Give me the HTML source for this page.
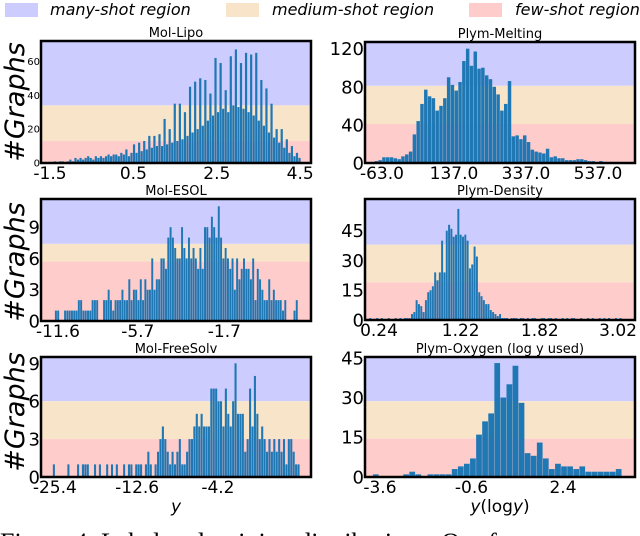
<!DOCTYPE html>
<html><head><meta charset="utf-8"><style>
html,body{margin:0;padding:0;background:#fff;overflow:hidden;width:640px;height:536px}
svg{display:block;font-family:"DejaVu Sans","Liberation Sans",sans-serif}
</style></head><body>
<svg id="fig" width="640" height="536" viewBox="0 0 640 536">
<g>
<rect x="5" y="3" width="33" height="14" fill="#ccccff"/>
<text x="50" y="15" font-size="16" font-style="italic">many-shot region</text>
<rect x="226" y="3" width="33" height="14" fill="#f8e4c8"/>
<text x="272" y="15" font-size="16" font-style="italic">medium-shot region</text>
<rect x="469" y="3" width="33" height="14" fill="#ffcccc"/>
<text x="515" y="15" font-size="16" font-style="italic">few-shot region</text>
</g>
<text transform="translate(24,102) rotate(-90)" text-anchor="middle" font-size="27" font-style="italic">#Graphs</text>
<text transform="translate(24,262) rotate(-90)" text-anchor="middle" font-size="27" font-style="italic">#Graphs</text>
<text transform="translate(24,412) rotate(-90)" text-anchor="middle" font-size="27" font-style="italic">#Graphs</text>
<text x="176" y="512" text-anchor="middle" font-size="17" font-style="italic">y</text>
<text x="500" y="512" text-anchor="middle" font-size="17"><tspan font-style="italic">y</tspan>(log<tspan font-style="italic">y</tspan>)</text>
<text x="0" y="551" font-size="26" font-family="Liberation Serif, serif">Figure 4: Label and training distributions. Our f</text>
</svg>
<script>
// ---- data ----
const lipoCounts=[1,0,1,1,0,1,2,1,3,2,3,2,3,4,3,2,4,3,4,3,4,5,4,5,5,4,6,5,8,4,6,11,6,12,7,13,8,16,9,16,10,17,10,26,11,20,12,35,13,35,14,30,16,45,18,48,20,50,22,49,25,41,28,62,30,59,32,43,30,63,34,67,33,59,32,65,30,64,28,65,25,49,22,44,18,35,15,20,12,20,9,14,6,10,4,6,3];
const lipoTicksY=[0,20,40,60];
const lipoTicksX=[-1.5,0.5,2.5,4.5];
const lipoTickLabelsX=["-1.5","0.5","2.5","4.5"];

const meltCounts=[1,1,2,3,6,6,6,5,4,7,9,12,30,44,62,77,70,68,55,60,68,90,82,76,85,107,120,102,117,99,100,92,88,80,72,55,62,86,28,29,25,29,22,14,12,11,10,15,6,7,5,5,3,3,3,4,4,3,2,2,1,2,1,1,1,1,1];
const meltTicksY=[0,40,80,120];
const meltTicksX=[-63,137,337,537];
const meltTickLabelsX=["-63.0","137.0","337.0","537.0"];

const esolCounts=[1,1,0,0,1,1,1,1,1,1,2,2,1,1,1,1,2,2,2,0,0,2,2,3,2,1,2,2,2,3,2,2,4,2,3,3,2,4,2,4,3,3,6,3,4,4,6,6,5,8,9,8,7,6,6,9,7,6,8,6,7,6,5,7,5,9,9,8,10,9,8,11,8,6,7,6,5,6,3,6,4,5,6,5,5,4,6,2,5,4,3,2,2,4,2,3,2,2,2,1,2,0,0,0,1,2];
const esolTicksY=[0,3,6,9];
const esolTicksX=[-11.4,-6.7,-1.6];
const esolTickLabelsX=["-11.6","-5.7","-1.7"];

const densCounts=[0,1,0,0,1,0,1,0,0,1,0,0,1,0,1,0,1,1,1,3,4,10,8,7,4,10,14,15,17,24,20,24,40,24,45,48,46,42,43,56,43,42,43,40,26,28,37,32,14,12,10,8,8,5,4,3,2,3,1,1,1,0,1,1,1,0,1,1,0,1,0,1,1,0,0,1,1,0,1,1,0,1,0,0,1,0,1,0,1,1,0,0,1,0,0,1,0,1,0,0,1,0,1,0,1,0,0,1,0,1];
const densTicksY=[0,15,30,45];
const densTicksX=[0.24,1.19,2.11,3.02];
const densTickLabelsX=["0.24","1.22","1.82","3.02"];

const freeCounts=[1,0,0,0,0,0,1,0,0,0,1,0,1,1,1,0,0,1,0,1,0,0,1,0,1,0,1,0,0,1,0,1,1,0,1,1,1,0,1,2,1,0,1,2,3,4,3,2,1,2,1,2,3,1,1,2,3,3,4,5,4,5,4,4,4,7,7,7,6,6,4,7,5,4,6,9,5,5,5,2,3,7,4,8,5,3,4,3,2,3,2,3,2,3,2,3,1,3,3,2,1,1];
const freeTicksY=[0,3,6,9];
const freeTicksX=[-25.4,-14.7,-4.2];
const freeTickLabelsX=["-25.4","-12.6","-4.2"];

const oxyCounts=[0,1,0,0,0,0,1,2,1,0,1,1,1,1,3,4,5,7,16,21,24,43,30,35,42,28,9,8,13,7,3,5,4,4,3,4,2,2,2,2,2,3];
const oxyTicksY=[0,15,30,45];
const oxyTicksX=[-3.6,-0.6,2.4];
const oxyTickLabelsX=["-3.6","-0.6","2.4"];

const panels=[
 {name:"mol-lipo",title:"Mol-Lipo",box:[41,41,311,163],xd:[-1.716,4.76],bins:[-1.404,4.52],ymax:72,regions:[34,13],counts:lipoCounts,ty:lipoTicksY,tx:lipoTicksX,tl:lipoTickLabelsX,yfs:10},
 {name:"plym-melting",title:"Plym-Melting",box:[365,42,635,163],xd:[-110.2,639.8],bins:[-104.7,603.6],ymax:127,regions:[81,41],counts:meltCounts,ty:meltTicksY,tx:meltTicksX,tl:meltTickLabelsX,yfs:18},
 {name:"mol-esol",title:"Mol-ESOL",box:[41,199,311,321],xd:[-12.4,3.5],bins:[-11.58,2.74],ymax:11.7,regions:[7.4,5.7],counts:esolCounts,ty:esolTicksY,tx:esolTicksX,tl:esolTickLabelsX,yfs:18},
 {name:"plym-density",title:"Plym-Density",box:[365,199,635,320],xd:[0.077,3.217],bins:[0.10,3.065],ymax:61,regions:[38,19],counts:densCounts,ty:densTicksY,tx:densTicksX,tl:densTickLabelsX,yfs:18},
 {name:"mol-freesolv",title:"Mol-FreeSolv",box:[41,357,311,477],xd:[-27.2,7.9],bins:[-25.66,6.46],ymax:9.5,regions:[6.0,3.0],counts:freeCounts,ty:freeTicksY,tx:freeTicksX,tl:freeTickLabelsX,yfs:18},
 {name:"plym-oxygen",title:"Plym-Oxygen (log y used)",box:[365,357,635,477],xd:[-4.09,4.76],bins:[-4.03,4.33],ymax:45.3,regions:[28.6,14.5],counts:oxyCounts,ty:oxyTicksY,tx:oxyTicksX,tl:oxyTickLabelsX,yfs:18}
];
const NS="http://www.w3.org/2000/svg";
const svg=document.getElementById('fig');
function mk(tag,attrs,parent){const e=document.createElementNS(NS,tag);for(const k in attrs)e.setAttribute(k,attrs[k]);parent.appendChild(e);return e;}
panels.forEach(p=>{
 const [L,T,R,B]=p.box;
 const g=mk('g',{},svg);
 
 
 const xs=v=>L+(v-p.xd[0])/(p.xd[1]-p.xd[0])*(R-L);
 const ys=v=>B-v/p.ymax*(B-T);
 const r1=mk('rect',{x:L,y:T,width:R-L,height:ys(p.regions[0])-T,fill:'#ccccff'},g);
 
 
 const r2=mk('rect',{x:L,y:ys(p.regions[0]),width:R-L,height:ys(p.regions[1])-ys(p.regions[0]),fill:'#f8e4c8'},g);
 
 
 const r3=mk('rect',{x:L,y:ys(p.regions[1]),width:R-L,height:B-ys(p.regions[1]),fill:'#ffcccc'},g);
 
 
 const n=p.counts.length, w=(p.bins[1]-p.bins[0])/n;
 p.counts.forEach((c,i)=>{
  if(c<=0)return;
  const x0=xs(p.bins[0]+i*w), x1=xs(p.bins[0]+(i+1)*w);
  const b=mk('rect',{x:x0,y:ys(c),width:Math.max(0.5,x1-x0-0.35),height:B-ys(c),fill:'#1f77b4'},g);
  
  
 });
 const fr=mk('rect',{x:L,y:T,width:R-L,height:B-T,fill:'none',stroke:'#000','stroke-width':2.5},g);
 
 
 const t=mk('text',{x:(L+R)/2,y:T-4,'text-anchor':'middle','font-size':13},g);
 t.textContent=p.title;
 
 
 p.ty.forEach(v=>{
  const tt=mk('text',{x:L-1,y:ys(v)+p.yfs*0.36,'text-anchor':'end','font-size':p.yfs},g);
  tt.textContent=String(v);
  
  
 });
 p.tx.forEach((v,i)=>{
  const tt=mk('text',{x:xs(v),y:B+16,'text-anchor':'middle','font-size':17},g);
  tt.textContent=p.tl[i];
  
  
 });
});
</script>
</body></html>
